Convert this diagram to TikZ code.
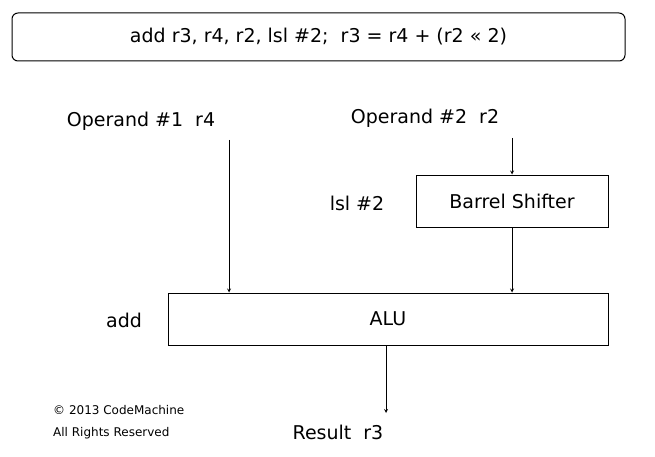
\documentclass[tikz,border=0pt]{standalone}
\usepackage{fontspec}
\setmainfont{DejaVu Sans}
\begin{document}
\begin{tikzpicture}[x=1pt,y=-1pt,
  big/.style={font=\fontsize{19}{22}\selectfont,inner sep=0},
  sm/.style={font=\fontsize{12}{14}\selectfont,inner sep=0,anchor=west},
  box/.style={draw,line width=1pt,inner sep=0},
  arr/.style={-{stealth},line width=0.8pt}]
\useasboundingbox (0,0) rectangle (655,457);
\node[box,rounded corners=6pt,minimum width=613pt,minimum height=48pt] (top) at (318.5,37) {};
\node[big] at (top.center) {add r3, r4, r2, lsl \#2;\ \ r3 = r4 + (r2 << 2)};
\node[big] (op1) at (141,121) {Operand \#1\ \ r4};
\node[big] (op2) at (425,118) {Operand \#2\ \ r2};
\node[box,minimum width=192pt,minimum height=52pt,font=\fontsize{19}{22}\selectfont] (bs) at (512,201) {Barrel Shifter};
\node[big] (lsl) at (357,203) {lsl \#2};
\node[box,minimum width=440pt,minimum height=52pt,font=\fontsize{19}{22}\selectfont] (alu) at (388,319) {ALU};
\node[big] (add) at (124,320) {add};
\node[big] (res) at (338,432) {Result\ \ r3};
\node[sm] (c1) at (53,410) {© 2013 CodeMachine};
\node[sm] (c2) at (53,433) {All Rights Reserved};
\coordinate (a1) at (229,140);
\draw[arr] (a1) -- (a1 |- alu.north);
\coordinate (a2) at (512,138);
\draw[arr] (a2) -- (bs.north);
\draw[arr] (bs.south) -- (bs.south |- alu.north);
\coordinate (a3) at (386,413);
\draw[arr] (386,345) -- (a3);
\end{tikzpicture}
\end{document}
